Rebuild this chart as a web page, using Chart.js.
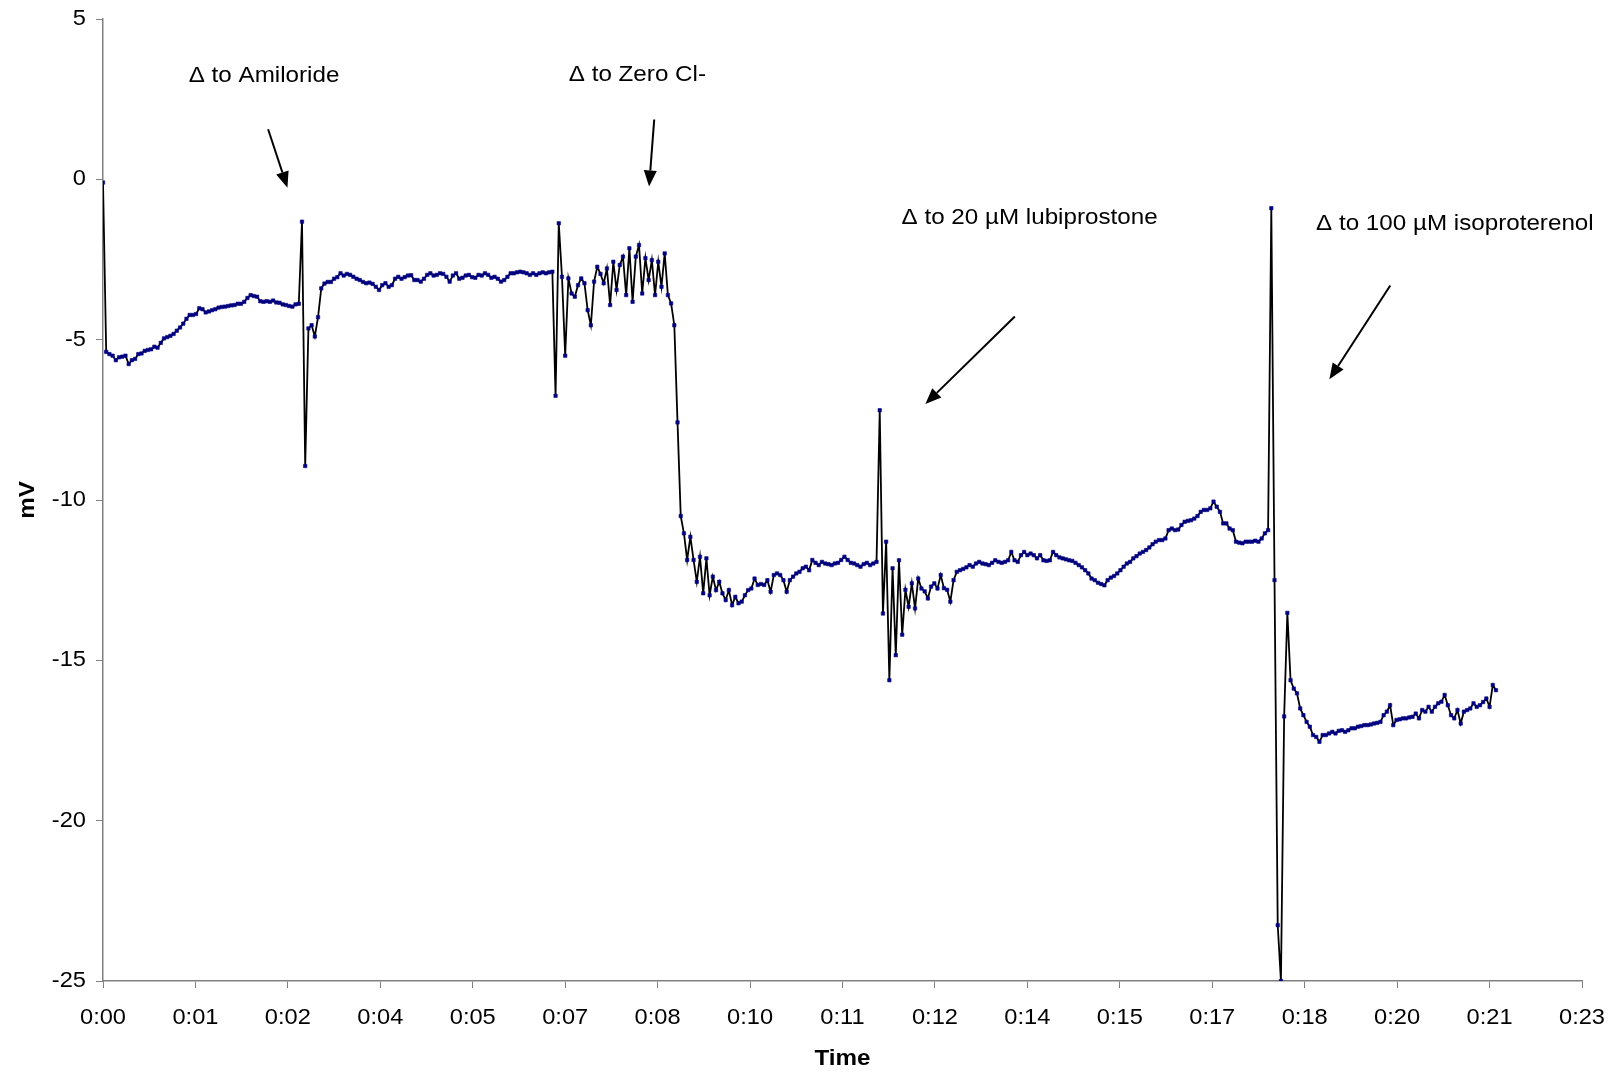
<!DOCTYPE html>
<html><head><meta charset="utf-8">
<script src="https://cdn.jsdelivr.net/npm/chart.js@4.4.1/dist/chart.umd.min.js"></script>
<style>html,body{margin:0;padding:0;background:#fff}#wrap{width:1616px;height:1073px;position:relative}</style>
</head><body><div id="wrap"><canvas id="c"></canvas></div>
<script>
// ---- data (time in minutes, potential in mV), one reading every 3 s ----
const sampleStepMin = 0.05;

const baselineStart = 0.00;
const baselineMv = [-0.1,-5.38,-5.45,-5.5,-5.64,-5.55,-5.53,-5.5,-5.76,-5.64,
 -5.6,-5.45,-5.43,-5.35,-5.32,-5.3,-5.22,-5.25,-5.1,-4.96,
 -4.92,-4.88,-4.82,-4.72,-4.62,-4.5,-4.35,-4.23,-4.23,-4.2,
 -4.02,-4.05,-4.15,-4.12,-4.08,-4.05,-4.0,-3.98,-3.97,-3.95,
 -3.93,-3.92,-3.88,-3.88,-3.82,-3.7,-3.61,-3.64,-3.66,-3.8,
 -3.82,-3.8,-3.82,-3.78,-3.84,-3.85,-3.9,-3.92,-3.95,-3.97,
 -3.9,-3.88];

const amilorideStart = 3.10;
const amilorideMv = [-1.32,-8.94,-4.65,-4.55,-4.9,-4.3,-3.4,-3.25,-3.2,-3.2,
 -3.1,-3.05,-2.93,-3.0,-2.95,-2.98,-3.04,-3.1,-3.14,-3.2,
 -3.24,-3.22,-3.26,-3.35,-3.45,-3.3,-3.24,-3.35,-3.3,-3.1,
 -3.04,-3.1,-3.05,-3.0,-2.99,-3.14,
 -3.14,-3.19,-3.1,-2.98,-2.93,-3.0,-2.98,-2.93,-2.95,-3.04,
 -3.19,-3.0,-2.93,-3.1,-3.07,-3.0,-2.98,-3.05,-3.07,-2.98,
 -3.0,-2.93,-2.98,-3.07,-3.04,-3.1,-3.19,-3.14,-3.04,-2.93,
 -2.93,-2.9,-2.88,-2.9,-2.93,-2.98,-2.93,-2.98,-2.93,-2.9,
 -2.93,-2.9,-2.88];

const zeroClStart = 7.05;
const zeroClMv = [-6.75,-1.37,-3.04,-5.5,-3.09,-3.56,-3.66,-3.3,-3.09,-3.24,
 -4.08,-4.55,-3.19,-2.73,-2.95,-3.24,-2.78,-3.92,-2.57,-3.45,
 -2.67,-2.41,-3.61,-2.15,-3.82,-2.41,-2.05,-3.56,-2.46,-3.14,
 -2.52,-3.61,-2.57,-3.35,-2.31,-3.61,-3.87,
 -4.55,-7.58,-10.5,
 -11.04,-11.87,-11.15,-11.87,-12.55,-11.77,-12.91,-11.82,-12.97,-12.39,
 -12.81,-12.55,-12.91,-13.12,-12.81,-13.28,-13.02,-13.22,-13.17,-12.97,
 -12.81,-12.76,-12.45,-12.65,-12.62,-12.65,-12.5,-12.86,-12.34,-12.29,
 -12.34,-12.5,-12.86,-12.5,-12.39,-12.29,-12.24,-12.13,-12.08,-12.19,
 -11.87,-11.96,-12.03,-11.93,-11.98,-12.0,-12.03,-11.98,-11.96,-11.87,
 -11.77,-11.87,-11.96,-11.98,-12.03,-12.08,-12.0,-11.96,-12.03,-11.98,
 -11.93];

const lubiprostoneStart = 12.10;
const lubiprostoneMv = [-7.2,-13.54,-11.3,-15.62,-12.13,-14.84,-11.88,-14.2,-12.8,-13.33,
 -12.6,-13.38,-12.45,-12.76,-12.85,-13.07,-12.7,-12.6,-12.76,-12.34,
 -12.75,-12.8,-13.17,-12.5,-12.24,-12.19,-12.15,-12.1,
 -12.03,-12.08,-11.98,-11.93,-11.98,-12.0,-12.03,-11.96,-11.88,-11.93,
 -11.96,-11.93,-11.88,-11.62,-11.88,-11.93,-11.72,-11.62,-11.72,-11.67,
 -11.72,-11.82,-11.72,-11.88,-11.9,-11.88,-11.62,-11.72,-11.79,-11.82,
 -11.85,-11.88,-11.9,-11.96,-12.03,-12.1,-12.19,-12.29,-12.45,-12.5,
 -12.58,-12.62,-12.66,-12.5,-12.42,-12.37,-12.29,-12.19,-12.08,-11.98,
 -11.93,-11.82,-11.75,-11.67,-11.62,-11.56,-11.48,-11.38,-11.3,-11.25,
 -11.25,-11.2,-10.94,-10.89,-10.94,-10.92,-10.78,-10.68,-10.65,-10.63,
 -10.58,-10.5,-10.37,-10.31,-10.31,-10.26,-10.05,-10.21,-10.37,-10.73,
 -10.73,-10.89,-10.94,-11.3,-11.33,-11.35,-11.3,-11.3,-11.3,-11.27,
 -11.3,-11.2,-11.04,-10.94];

const isoproterenolStart = 18.20;
const isoproterenolMv = [-0.9,-12.5,-23.26,-25,-16.75,-13.52,-15.62,-15.88,-16.03,-16.5,
 -16.71,-16.92,-17.07,-17.33,-17.39,-17.54,-17.33,-17.33,-17.28,-17.23,
 -17.28,-17.2,-17.18,-17.23,-17.18,-17.12,-17.12,-17.07,-17.05,-17.02,
 -17.02,-17.0,-16.97,-16.95,-16.92,-16.71,-16.6,-16.4,-17.02,-16.86,
 -16.84,-16.81,-16.81,-16.78,-16.76,-16.66,-16.81,-16.55,-16.6,-16.45,
 -16.6,-16.45,-16.34,-16.29,-16.08,-16.4,-16.71,-16.81,-16.55,-16.97,
 -16.6,-16.55,-16.5,-16.34,-16.45,-16.4,-16.3,-16.19,-16.45,-15.77,
 -15.93];

// axis ticks (Excel h:mm time axis, one tick every 0.001 day = 1.44 min)
const xTickValues = [0,1.44,2.88,4.32,5.76,7.2,8.64,10.08,11.52,12.96,14.4,15.84,17.28,18.72,20.16,21.6,23.04];
const xTickLabels = ['0:00','0:01','0:02','0:04','0:05','0:07','0:08','0:10','0:11','0:12','0:14','0:15','0:17','0:18','0:20','0:21','0:23'];
const yTickValues = [5,0,-5,-10,-15,-20,-25];
const yTickLabels = ['5','0','-5','-10','-15','-20','-25'];
const xTitle = 'Time';
const yTitle = 'mV';

// annotations: label text, label anchor (min, mV), arrow from/to (min, mV)
const noteTexts = ['\u0394 to Amiloride','\u0394 to Zero Cl-','\u0394 to 20 \u00b5M lubiprostone','\u0394 to 100 \u00b5M isoproterenol'];
const noteAnchor = [[1.335,3.22],[7.256,3.24],[12.44,-1.2],[18.897,-1.39]];
const arrowFrom = [[2.572,1.56],[8.587,1.865],[14.205,-4.276],[20.053,-3.313]];
const arrowTo   = [[2.873,-0.262],[8.507,-0.225],[12.811,-7.009],[19.105,-6.238]];

// ---- build points ----
const segments = [[baselineStart,baselineMv],[amilorideStart,amilorideMv],[zeroClStart,zeroClMv],[lubiprostoneStart,lubiprostoneMv],[isoproterenolStart,isoproterenolMv]];
const points = [];
segments.forEach(([start, vals]) => vals.forEach((v, i) => points.push({x: +(start + i * sampleStepMin).toFixed(3), y: v})));

const FONT = '"Liberation Sans", Arial, sans-serif';
const SX = 1.1; // horizontal stretch of the original text

function stretchedText(ctx, txt, x, y, align, font, rot) {
  ctx.save();
  ctx.translate(x, y);
  if (rot) ctx.rotate(rot);
  ctx.scale(SX, 1);
  ctx.font = font;
  ctx.textAlign = align;
  ctx.textBaseline = 'middle';
  ctx.fillStyle = '#000';
  ctx.fillText(txt, 0, 0);
  ctx.restore();
}

const textPlugin = {
  id: 'texts',
  afterDraw(chart) {
    const ctx = chart.ctx, xs = chart.scales.x, ys = chart.scales.y, ca = chart.chartArea;
    const tickFont = '21.5px ' + FONT;
    yTickValues.forEach((v, i) => stretchedText(ctx, yTickLabels[i], ca.left - 17, ys.getPixelForValue(v), 'right', tickFont));
    xTickValues.forEach((v, i) => stretchedText(ctx, xTickLabels[i], xs.getPixelForValue(v), ca.bottom + 37, 'center', tickFont));
    stretchedText(ctx, xTitle, (ca.left + ca.right) / 2, ca.bottom + 78, 'center', 'bold 22px ' + FONT);
    stretchedText(ctx, yTitle, 28, (ca.top + ca.bottom) / 2, 'center', 'bold 22px ' + FONT, -Math.PI / 2);
    noteTexts.forEach((t, i) => stretchedText(ctx, t, xs.getPixelForValue(noteAnchor[i][0]), ys.getPixelForValue(noteAnchor[i][1]), 'left', '22px ' + FONT));
    ctx.save();
    ctx.strokeStyle = '#000'; ctx.fillStyle = '#000'; ctx.lineWidth = 2;
    arrowFrom.forEach((f, i) => {
      const x1 = xs.getPixelForValue(f[0]), y1 = ys.getPixelForValue(f[1]);
      const x2 = xs.getPixelForValue(arrowTo[i][0]), y2 = ys.getPixelForValue(arrowTo[i][1]);
      const a = Math.atan2(y2 - y1, x2 - x1), hl = 16, hw = 6.5;
      const bx = x2 - hl * Math.cos(a), by = y2 - hl * Math.sin(a);
      ctx.beginPath(); ctx.moveTo(x1, y1); ctx.lineTo(bx, by); ctx.stroke();
      ctx.beginPath();
      ctx.moveTo(x2, y2);
      ctx.lineTo(bx + hw * Math.sin(a), by - hw * Math.cos(a));
      ctx.lineTo(bx - hw * Math.sin(a), by + hw * Math.cos(a));
      ctx.closePath(); ctx.fill();
    });
    ctx.restore();
  }
};

const axisGrid = {display: true, drawOnChartArea: false, drawTicks: true, tickLength: 7, tickColor: '#808080', tickWidth: 1};
const axisBorder = {display: true, color: '#808080', width: 1.5};

new Chart(document.getElementById('c'), {
  type: 'line',
  data: {datasets: [{
    data: points,
    borderColor: '#000', borderWidth: 1.8, tension: 0,
    pointStyle: 'rect', pointRadius: 2.4, pointHoverRadius: 2.4,
    pointBackgroundColor: '#000080', pointBorderColor: '#000080', pointBorderWidth: 0.6
  }]},
  options: {
    responsive: true, maintainAspectRatio: false, animation: false, devicePixelRatio: 1,
    layout: {padding: {left: 96, right: 34, top: 19, bottom: 85}},
    plugins: {legend: {display: false}, tooltip: {enabled: false}},
    scales: {
      x: {type: 'linear', min: 0, max: 23.04,
          afterBuildTicks: s => { s.ticks = xTickValues.map(v => ({value: v})); },
          ticks: {display: false}, grid: axisGrid, border: axisBorder},
      y: {type: 'linear', min: -25, max: 5,
          afterBuildTicks: s => { s.ticks = yTickValues.map(v => ({value: v})); },
          ticks: {display: false}, grid: axisGrid, border: axisBorder}
    }
  },
  plugins: [textPlugin]
});
</script>
</body></html>
